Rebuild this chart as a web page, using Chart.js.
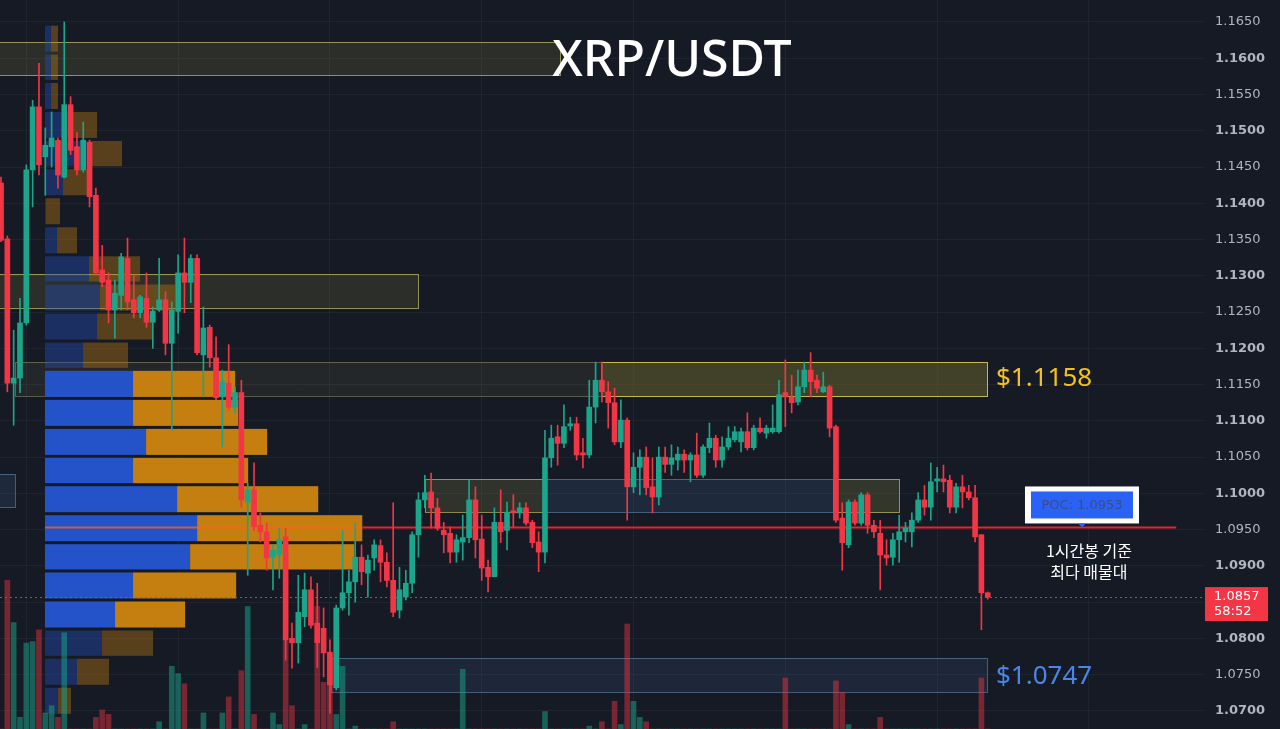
<!DOCTYPE html>
<html lang="ko">

<head>
    <meta charset="UTF-8">
    <title>XRP/USDT</title>
    <script src="https://cdn.jsdelivr.net/npm/chart.js"></script>
    <style>
        html, body { margin: 0; padding: 0; background: #161a25; overflow: hidden; }
        .frame { position: relative; width: 1280px; height: 729px; }
    </style>
</head>

<body>
    <div class="frame">
        <canvas id="graficoXRP"></canvas>
    </div>

<script>
    // candles, 1h, oldest first
    const opens = [
        1.1428, 1.1351, 1.1152, 1.1159, 1.1235, 1.1446, 1.1533, 1.1464, 1.1478, 1.1487,
        1.1436, 1.1536, 1.1478, 1.1446, 1.1484, 1.1411, 1.1308, 1.1294, 1.1253, 1.1273,
        1.1324, 1.1267, 1.1249, 1.1269, 1.1236, 1.1253, 1.1267, 1.1207, 1.1251, 1.1304,
        1.1291, 1.1324, 1.1191, 1.1229, 1.1187, 1.1133, 1.1152, 1.1119, 1.1139, 1.0988,
        1.1005, 1.0956, 1.0947, 1.0912, 1.0915, 1.0940, 1.0800, 1.0794, 1.0830, 1.0867,
        1.0821, 1.0814, 1.0781, 1.0732, 1.0842, 1.0863, 1.0878, 1.0912, 1.0890, 1.0911,
        1.0928, 1.0905, 1.0880, 1.0839, 1.0857, 1.0876, 1.0943, 1.0991, 1.1002, 1.0980,
        1.0949, 1.0945, 1.0919, 1.0933, 1.0939, 1.0991, 1.0937, 1.0898, 1.0885, 1.0960,
        1.0949, 1.0976, 1.0973, 1.0980, 1.0960, 1.0933, 1.0919, 1.1049, 1.1078, 1.1069,
        1.1093, 1.1096, 1.1056, 1.1053, 1.1119, 1.1156, 1.1140, 1.1125, 1.1071, 1.1101,
        1.1009, 1.1036, 1.1050, 1.1009, 1.0995, 1.1050, 1.1040, 1.1046, 1.1054, 1.1046,
        1.1053, 1.1025, 1.1063, 1.1076, 1.1046, 1.1064, 1.1074, 1.1071, 1.1085, 1.1063,
        1.1090, 1.1083, 1.1085, 1.1085, 1.1139, 1.1133, 1.1126, 1.1147, 1.1170, 1.1156,
        1.1140, 1.1147, 1.1092, 1.0966, 1.0929, 1.0988, 1.0959, 1.0998, 1.0956, 1.0945,
        1.0915, 1.0912, 1.0936, 1.0947, 1.0947, 1.0963, 1.0991, 1.0981, 1.1017, 1.1020,
        1.1018, 1.0981, 1.1009, 1.1002, 1.0994, 1.0943, 1.0863
    ];
    const highs = [
        1.1436, 1.1355, 1.1225, 1.1269, 1.1453, 1.1542, 1.1593, 1.1504, 1.1526, 1.1490,
        1.1650, 1.1547, 1.1498, 1.1512, 1.1487, 1.1421, 1.1342, 1.1304, 1.1294, 1.1331,
        1.1352, 1.1301, 1.1273, 1.1304, 1.1257, 1.1324, 1.1278, 1.1264, 1.1329, 1.1352,
        1.1329, 1.1329, 1.1257, 1.1232, 1.1216, 1.1170, 1.1205, 1.1147, 1.1156, 1.1014,
        1.1042, 1.0973, 1.0959, 1.0929, 1.0952, 1.0952, 1.0821, 1.0887, 1.0890, 1.0885,
        1.0876, 1.0842, 1.0798, 1.0846, 1.0949, 1.0894, 1.0959, 1.0929, 1.0915, 1.0936,
        1.0936, 1.0918, 1.0987, 1.0898, 1.0894, 1.0947, 1.1001, 1.1025, 1.1028, 1.0993,
        1.0960, 1.0954, 1.0943, 1.0970, 1.1018, 1.1009, 1.0970, 1.0908, 1.0980, 1.1005,
        1.0988, 1.0998, 1.0987, 1.0987, 1.0963, 1.0947, 1.1087, 1.1094, 1.1094, 1.1122,
        1.1105, 1.1105, 1.1076, 1.1156, 1.1181, 1.1181, 1.1154, 1.1145, 1.1129, 1.1104,
        1.1056, 1.1060, 1.1064, 1.1049, 1.1064, 1.1064, 1.1067, 1.1064, 1.1060, 1.1056,
        1.1083, 1.1067, 1.1097, 1.1080, 1.1078, 1.1092, 1.1092, 1.1090, 1.1111, 1.1094,
        1.1104, 1.1094, 1.1122, 1.1156, 1.1184, 1.1163, 1.1170, 1.1181, 1.1194, 1.1163,
        1.1167, 1.1149, 1.1094, 1.0987, 1.0991, 1.0991, 1.1001, 1.1001, 1.0963, 1.0963,
        1.0936, 1.0945, 1.0970, 1.0960, 1.0973, 1.1001, 1.1011, 1.1042, 1.1036, 1.1039,
        1.1025, 1.1014, 1.1025, 1.1011, 1.1011, 1.0943, 1.0864
    ];
    const lows = [
        1.1347, 1.1140, 1.1094, 1.1139, 1.1232, 1.1395, 1.1439, 1.1411, 1.1450, 1.1421,
        1.1435, 1.1467, 1.1439, 1.1443, 1.1395, 1.1301, 1.1285, 1.1235, 1.1214, 1.1253,
        1.1253, 1.1242, 1.1242, 1.1229, 1.1200, 1.1251, 1.1191, 1.1087, 1.1221, 1.1249,
        1.1263, 1.1191, 1.1133, 1.1174, 1.1129, 1.1064, 1.1115, 1.1111, 1.0981, 1.0887,
        1.0949, 1.0933, 1.0894, 1.0867, 1.0883, 1.0770, 1.0759, 1.0766, 1.0816, 1.0814,
        1.0760, 1.0747, 1.0697, 1.0729, 1.0839, 1.0832, 1.0850, 1.0874, 1.0857, 1.0894,
        1.0878, 1.0871, 1.0830, 1.0828, 1.0853, 1.0863, 1.0912, 1.0980, 1.0952, 1.0949,
        1.0918, 1.0904, 1.0905, 1.0908, 1.0932, 1.0911, 1.0880, 1.0864, 1.0885, 1.0932,
        1.0922, 1.0954, 1.0966, 1.0956, 1.0925, 1.0892, 1.0904, 1.1036, 1.1039, 1.1063,
        1.1087, 1.1046, 1.1035, 1.1049, 1.1097, 1.1126, 1.1090, 1.1067, 1.1063, 1.0963,
        1.1001, 1.0998, 1.0998, 1.0973, 1.0984, 1.1029, 1.1025, 1.1032, 1.1029, 1.1016,
        1.1022, 1.1022, 1.1056, 1.1036, 1.1036, 1.1060, 1.1071, 1.1057, 1.1060, 1.1060,
        1.1083, 1.1076, 1.1083, 1.1083, 1.1092, 1.1111, 1.1122, 1.1139, 1.1133, 1.1139,
        1.1139, 1.1078, 1.0960, 1.0894, 1.0925, 1.0956, 1.0956, 1.0945, 1.0939, 1.0867,
        1.0901, 1.0901, 1.0905, 1.0933, 1.0926, 1.0960, 1.0970, 1.0963, 1.1002, 1.1002,
        1.0973, 1.0973, 1.0980, 1.0991, 1.0933, 1.0812, 1.0854
    ];
    const closes = [
        1.1349, 1.1152, 1.1159, 1.1235, 1.1446, 1.1533, 1.1453, 1.1480, 1.1490, 1.1439,
        1.1536, 1.1473, 1.1446, 1.1487, 1.1409, 1.1304, 1.1291, 1.1253, 1.1276, 1.1326,
        1.1264, 1.1249, 1.1271, 1.1236, 1.1251, 1.1267, 1.1207, 1.1253, 1.1304, 1.1291,
        1.1324, 1.1194, 1.1228, 1.1187, 1.1132, 1.1154, 1.1119, 1.1139, 1.0991, 1.1005,
        1.0954, 1.0947, 1.0911, 1.0922, 1.0936, 1.0798, 1.0794, 1.0836, 1.0867, 1.0818,
        1.0794, 1.0780, 1.0736, 1.0842, 1.0863, 1.0878, 1.0912, 1.0892, 1.0908, 1.0929,
        1.0905, 1.0880, 1.0836, 1.0867, 1.0876, 1.0943, 1.0991, 1.1001, 1.0980, 1.0952,
        1.0943, 1.0919, 1.0936, 1.0939, 1.0991, 1.0936, 1.0897, 1.0885, 1.0960, 1.0947,
        1.0974, 1.0973, 1.0980, 1.0959, 1.0932, 1.0919, 1.1049, 1.1076, 1.1069, 1.1092,
        1.1096, 1.1053, 1.1053, 1.1119, 1.1156, 1.1140, 1.1125, 1.1071, 1.1101, 1.1009,
        1.1036, 1.1050, 1.1008, 1.0995, 1.1050, 1.1040, 1.1049, 1.1054, 1.1046, 1.1053,
        1.1025, 1.1064, 1.1076, 1.1046, 1.1064, 1.1076, 1.1085, 1.1085, 1.1063, 1.1090,
        1.1085, 1.1090, 1.1090, 1.1136, 1.1133, 1.1125, 1.1147, 1.1170, 1.1154, 1.1145,
        1.1147, 1.1090, 1.0963, 1.0932, 1.0988, 1.0959, 1.0998, 1.0956, 1.0947, 1.0915,
        1.0911, 1.0936, 1.0947, 1.0952, 1.0963, 1.0991, 1.0981, 1.1016, 1.1020, 1.1016,
        1.0981, 1.1009, 1.1002, 1.0994, 1.0940, 1.0863, 1.0857
    ];
    // volume (K), only the tall ones stick up into view
    const volumes = [
        0, 102, 73, 8, 59, 60, 68, 11, 16, 8,
        66, 0, 0, 0, 0, 8, 13, 10, 0, 0,
        0, 0, 0, 0, 0, 5, 0, 43, 38, 31,
        0, 0, 11, 0, 0, 11, 22, 0, 40, 84,
        10, 0, 0, 11, 3, 61, 16, 0, 3, 0,
        84, 32, 51, 10, 43, 0, 2, 0, 0, 0,
        0, 0, 5, 0, 0, 0, 0, 0, 0, 0,
        0, 0, 0, 41, 0, 0, 0, 0, 0, 0,
        0, 0, 0, 0, 0, 0, 12, 0, 0, 0,
        0, 0, 0, 2, 0, 5, 0, 19, 3, 72,
        19, 8, 5, 0, 0, 0, 0, 0, 0, 0,
        0, 0, 0, 0, 0, 0, 0, 0, 0, 0,
        0, 0, 0, 0, 35, 0, 0, 0, 0, 0,
        0, 0, 33, 25, 3, 0, 0, 0, 0, 8,
        0, 0, 0, 0, 0, 0, 0, 0, 0, 0,
        0, 0, 0, 0, 0, 35, 0
    ];

    // volume profile, bins from bottom to top (edges in price)
    const profileEdges = [
        1.0694, 1.0734, 1.0774, 1.0813, 1.0853, 1.0893, 1.0932, 1.0972, 1.1012, 1.1051,
        1.1091, 1.1131, 1.1171, 1.1210, 1.1250, 1.1290, 1.1329, 1.1369, 1.1409, 1.1449,
        1.1488, 1.1528, 1.1568, 1.1607, 1.1647
    ];
    const profileBuy = [
        6.5, 16, 28.5, 35, 44, 72.5, 76, 66, 44, 50.5,
        44, 44, 19, 26, 27.5, 22, 6, 0.5, 9, 23.5,
        13.5, 3, 3, 3
    ];
    const profileSell = [
        6.5, 16, 25.5, 35, 51.5, 82, 82.5, 70.5, 57.5, 60.5,
        52.5, 51, 22.5, 27.5, 37.5, 25.5, 10, 7, 12.5, 15,
        12.5, 3.5, 3.5, 3.5
    ];
    const profileStart = 6.95;   // candle where the range profile begins
    const candlesPorVolume = 0.3165; // horizontal size of one profile unit, in candles

    const pocPrice = 1.0953;
    const lastPrice = 1.0857;
    const resistance = 1.1158;
    const support = 1.0747;

    const priceTicks = [
        1.0700, 1.0750, 1.0800, 1.0850, 1.0900, 1.0950, 1.1000, 1.1050, 1.1100, 1.1150,
        1.1200, 1.1250, 1.1300, 1.1350, 1.1400, 1.1450, 1.1500, 1.1550, 1.1600, 1.1650
    ];
    const timeTicks = [4, 28, 52, 76, 100, 124, 148, 172];

    const verde = '#1ba68b';
    const vermelho = '#f23645';

    // boxes drawn on the chart (candle index from/to, price hi/lo)
    const zonas = [
        { from: -1, to: 88.4, hi: 1.1622, lo: 1.1577, fill: 'rgba(120,118,60,0.22)', line: 'rgba(190,185,100,0.75)' },
        { from: -1, to: 66.0, hi: 1.1302, lo: 1.1256, fill: 'rgba(120,118,60,0.22)', line: 'rgba(190,185,100,0.75)' },
        { from: 2.2, to: 155.9, hi: 1.1181, lo: 1.1134, fill: 'rgba(110,110,70,0.16)', line: 'rgba(170,170,120,0.45)' },
        { from: 94.8, to: 155.9, hi: 1.1181, lo: 1.1134, fill: 'rgba(140,130,40,0.28)', line: 'rgba(215,200,80,0.85)' },
        { from: 67.1, to: 86.1, hi: 1.1020, lo: 1.0974, fill: 'rgba(120,118,60,0.28)', line: 'rgba(190,185,100,0.7)' },
        { from: 86.1, to: 131.6, hi: 1.1020, lo: 1.0974, fill: 'rgba(60,95,140,0.22)', line: 'rgba(100,140,175,0.6)' },
        { from: 131.6, to: 141.9, hi: 1.1020, lo: 1.0974, fill: 'rgba(120,118,60,0.3)', line: 'rgba(190,185,100,0.75)' },
        { from: -1, to: 2.2, hi: 1.1027, lo: 1.0981, fill: 'rgba(60,95,140,0.22)', line: 'rgba(100,140,175,0.6)' },
        { from: 52.1, to: 155.9, hi: 1.0773, lo: 1.0726, fill: 'rgba(60,95,140,0.2)', line: 'rgba(100,140,175,0.6)' }
    ];

    const indices = opens.map((o, i) => i);
    const cores = indices.map(i => closes[i] >= opens[i] ? verde : vermelho);
    const coresVol = indices.map(i => closes[i] >= opens[i] ? 'rgba(27,166,139,0.5)' : 'rgba(242,54,69,0.45)');

    const desenhos = {
        id: 'desenhos',
        beforeDraw(chart) {
            const ctx = chart.ctx;
            ctx.save();
            ctx.fillStyle = '#161a25';
            ctx.fillRect(0, 0, chart.width, chart.height);
            ctx.restore();
        },
        beforeDatasetsDraw(chart) {
            const { ctx, scales } = chart;
            const x = scales.x, y = scales.y;
            ctx.save();

            // zonas
            zonas.forEach(z => {
                const x1 = Math.round(x.getPixelForValue(z.from));
                const x2 = Math.round(x.getPixelForValue(z.to));
                const y1 = Math.round(y.getPixelForValue(z.hi));
                const y2 = Math.round(y.getPixelForValue(z.lo));
                ctx.fillStyle = z.fill;
                ctx.fillRect(x1, y1, x2 - x1, y2 - y1);
                ctx.strokeStyle = z.line;
                ctx.lineWidth = 1;
                ctx.strokeRect(x1 + 0.5, y1 + 0.5, x2 - x1, y2 - y1);
            });

            // volume profile
            const px = v => x.getPixelForValue(profileStart + v * candlesPorVolume);
            const x0 = px(0);
            for (let k = 0; k < profileBuy.length; k++) {
                const top = y.getPixelForValue(profileEdges[k + 1]) + 1.5;
                const bot = y.getPixelForValue(profileEdges[k]) - 1.5;
                const xb = px(profileBuy[k]);
                const xs = px(profileBuy[k] + profileSell[k]);
                const forte = k >= 3 && k <= 11;
                ctx.fillStyle = forte ? '#2452c9' : 'rgba(36,82,201,0.38)';
                ctx.fillRect(x0, top, xb - x0, bot - top);
                ctx.fillStyle = forte ? '#c47f10' : 'rgba(196,127,16,0.38)';
                ctx.fillRect(xb, top, xs - xb, bot - top);
            }

            // linha do POC
            const yPoc = Math.round(y.getPixelForValue(pocPrice)) + 0.5;
            const kPoc = 6;
            const xPocEnd = px(profileBuy[kPoc] + profileSell[kPoc]);
            ctx.lineWidth = 2;
            ctx.strokeStyle = 'rgba(255,100,20,0.75)';
            ctx.beginPath(); ctx.moveTo(x0, yPoc); ctx.lineTo(xPocEnd, yPoc); ctx.stroke();
            ctx.strokeStyle = '#e3242e';
            ctx.beginPath(); ctx.moveTo(xPocEnd, yPoc); ctx.lineTo(x.getPixelForValue(185.8), yPoc); ctx.stroke();

            // preço atual pontilhado
            const yLast = Math.round(y.getPixelForValue(lastPrice)) + 0.5;
            ctx.lineWidth = 1;
            ctx.setLineDash([2, 3]);
            ctx.strokeStyle = 'rgba(242,54,69,0.9)';
            ctx.beginPath(); ctx.moveTo(chart.chartArea.left, yLast); ctx.lineTo(chart.chartArea.right, yLast); ctx.stroke();
            ctx.setLineDash([]);
            ctx.restore();
        },
        afterDraw(chart) {
            const { ctx, scales } = chart;
            const x = scales.x, y = scales.y;
            ctx.save();

            // titulo
            ctx.fillStyle = '#ffffff';
            ctx.font = '500 50px "Noto Sans"';
            ctx.textAlign = 'center';
            ctx.textBaseline = 'middle';
            ctx.fillText('XRP/USDT', 672, 62);

            // niveis
            ctx.textAlign = 'left';
            ctx.font = '26px "Noto Sans"';
            ctx.fillStyle = '#f2c21b';
            ctx.fillText('$' + resistance.toFixed(4), x.getPixelForValue(157.3), y.getPixelForValue(resistance));
            ctx.fillStyle = '#4a86e8';
            ctx.fillText('$' + support.toFixed(4), x.getPixelForValue(157.3), y.getPixelForValue(support));

            // caixa POC
            const yPoc = y.getPixelForValue(pocPrice);
            const cx = x.getPixelForValue(170.9);
            ctx.fillStyle = '#ffffff';
            ctx.fillRect(cx - 57, yPoc - 41, 114, 37);
            ctx.fillStyle = '#2962f5';
            ctx.fillRect(cx - 51, yPoc - 36, 102, 27);
            ctx.beginPath();
            ctx.moveTo(cx - 4, yPoc - 4); ctx.lineTo(cx + 4, yPoc - 4); ctx.lineTo(cx, yPoc);
            ctx.fill();
            ctx.fillStyle = '#3a4c8c';
            ctx.font = '13px "DejaVu Sans"';
            ctx.textAlign = 'center';
            ctx.fillText('POC: ' + pocPrice.toFixed(4), cx, yPoc - 22);

            ctx.fillStyle = '#ffffff';
            ctx.font = '16px "Noto Sans CJK KR"';
            ctx.fillText('1시간봉 기준', x.getPixelForValue(172), yPoc + 23);
            ctx.fillText('최다 매물대', x.getPixelForValue(172), yPoc + 44);

            // etiqueta do preço
            const yLast = y.getPixelForValue(lastPrice);
            ctx.fillStyle = '#f23645';
            ctx.fillRect(chart.chartArea.right, yLast - 10, 63, 34);
            ctx.fillStyle = '#ffffff';
            ctx.textAlign = 'left';
            ctx.font = '13px "DejaVu Sans"';
            ctx.fillText(lastPrice.toFixed(4), chart.chartArea.right + 9, yLast);
            ctx.fillText('58:52', chart.chartArea.right + 9, yLast + 15);
            ctx.restore();
        }
    };

    const grafico = document.getElementById('graficoXRP');
    new Chart(grafico, {
        type: 'bar',
        data: {
            datasets: [
                {
                    label: 'corpo',
                    data: indices.map(i => ({ x: i, y: [opens[i], closes[i]] })),
                    backgroundColor: cores,
                    barThickness: 5,
                    minBarLength: 1,
                    grouped: false,
                    order: 1
                },
                {
                    label: 'pavio',
                    data: indices.map(i => ({ x: i, y: [lows[i], highs[i]] })),
                    backgroundColor: cores,
                    barThickness: 1,
                    grouped: false,
                    order: 2
                },
                {
                    label: 'volume',
                    data: indices.map(i => ({ x: i, y: volumes[i] })),
                    backgroundColor: coresVol,
                    barThickness: 5,
                    grouped: false,
                    yAxisID: 'vol',
                    order: 3
                }
            ]
        },
        options: {
            responsive: true,
            maintainAspectRatio: false,
            animation: false,
            layout: { padding: 0, autoPadding: false },
            plugins: { legend: { display: false }, tooltip: { enabled: false } },
            scales: {
                x: {
                    type: 'linear',
                    min: -0.16,
                    max: 190.35,
                    offset: false,
                    grid: { color: '#20242f', drawTicks: false, offset: false },
                    border: { display: false },
                    ticks: { display: false },
                    afterBuildTicks: s => { s.ticks = timeTicks.map(v => ({ value: v })); },
                    afterFit: s => { s.height = 0; s.paddingLeft = 0; s.paddingRight = 0; }
                },
                y: {
                    position: 'right',
                    min: 1.06751,
                    max: 1.16803,
                    grid: { color: '#20242f', drawTicks: false },
                    border: { display: false },
                    ticks: {
                        color: '#b2b5be',
                        padding: 10,
                        font: ctx => {
                            const v = ctx.tick ? ctx.tick.value : 0;
                            return {
                                family: 'DejaVu Sans',
                                size: 13,
                                weight: Math.round(v * 1000) % 10 === 0 ? 'bold' : 'normal'
                            };
                        },
                        callback: v => v.toFixed(4)
                    },
                    afterBuildTicks: s => { s.ticks = priceTicks.map(v => ({ value: v })); },
                    afterFit: s => { s.width = 75; s.paddingTop = 0; s.paddingBottom = 0; }
                },
                vol: {
                    type: 'linear',
                    display: false,
                    min: 0,
                    max: 500
                }
            }
        },
        plugins: [desenhos]
    });
</script>
</body>

</html>
